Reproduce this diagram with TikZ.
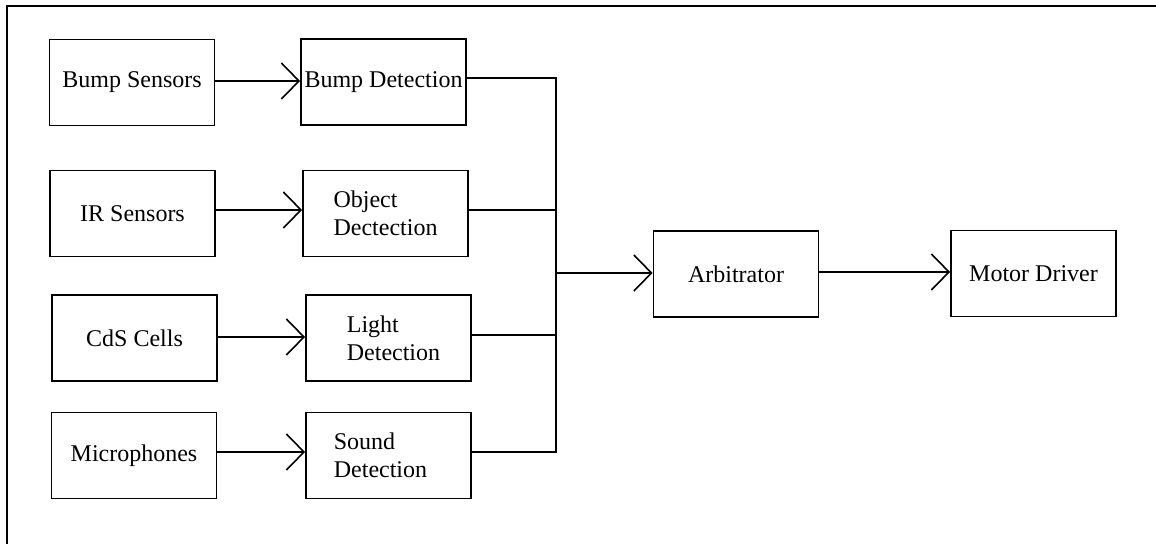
\documentclass[tikz,border=0pt]{standalone}
\usepackage{fontspec}
\setmainfont{Liberation Serif}
\usetikzlibrary{arrows.meta}
\tikzset{
  blk/.style={draw, line width=0.9pt, minimum width=82.5pt, minimum height=43pt,
              inner sep=0pt, font=\fontsize{12}{14}\selectfont},
  blk2/.style={blk, align=left},
  arr/.style={line width=0.8pt, -{Straight Barb[length=8.8pt,width=18pt,line width=0.8pt]}},
  wire/.style={line width=0.8pt},
  frame/.style={line width=1.3pt}
}
\begin{document}
\begin{tikzpicture}[x=0.5pt,y=-0.5pt]
  \useasboundingbox (0,0) rectangle (1156,544);
  % outer frame (left and top edges)
  \draw[frame] (7,544) -- (7,6) -- (1156,6);

  % sensor column
  \node[blk] (bs)  at (132,82.5)   {Bump Sensors};
  \node[blk] (ir)  at (132.5,213.5) {IR Sensors};
  \node[blk] (cds) at (134.5,338)  {CdS Cells};
  \node[blk] (mic) at (134,455.5)  {Microphones};

  % detection column
  \node[blk]  (bd) at (383.5,82)   {Bump Detection};
  \node[blk2] (od) at (385.5,213.5) {Object\\Dectection};
  \node[blk2] (ld) at (388.5,338)  {\hspace*{5pt}Light\\\hspace*{5pt}Detection};
  \node[blk2] (sd) at (388.5,455.5) {Sound\\Detection\hspace*{8pt}};

  % arbitration and output
  \node[blk] (arb) at (736,274)    {Arbitrator};
  \node[blk] (md)  at (1033.5,273.5) {Motor Driver};

  % row levels of the connectors
  \coordinate (r1) at (0,81);
  \coordinate (r2) at (0,210);
  \coordinate (r3) at (0,337);
  \coordinate (r4) at (0,452);
  \coordinate (ba) at (556,78);
  \coordinate (bb) at (556,210);
  \coordinate (bc) at (556,335);
  \coordinate (bd2) at (556,452);
  \coordinate (bm) at (556,273);

  % sensor -> detection
  \draw[arr] (bs.east |- r1) -- (bd.west |- r1);
  \draw[arr] (ir.east |- r2) -- (od.west |- r2);
  \draw[arr] (cds.east |- r3) -- (ld.west |- r3);
  \draw[arr] (mic.east |- r4) -- (sd.west |- r4);

  % detection outputs onto the common bus
  \draw[wire] (bd.east |- ba) -- (ba) -- (bd2) -- (sd.east |- bd2);
  \draw[wire] (od.east |- bb) -- (bb);
  \draw[wire] (ld.east |- bc) -- (bc);

  % bus -> arbitrator -> motor driver
  \draw[arr] (bm) -- (arb.west |- bm);
  \draw[arr] (arb.east |- 0,272) -- (md.west |- 0,272);
\end{tikzpicture}
\end{document}
